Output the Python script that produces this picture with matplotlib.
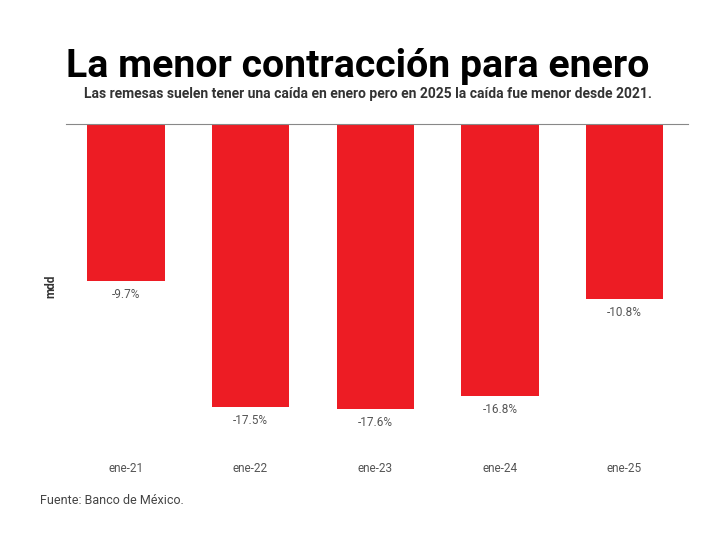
import matplotlib
matplotlib.use('Agg')
import matplotlib.pyplot as plt

# Data
categories = ['ene-21', 'ene-22', 'ene-23', 'ene-24', 'ene-25']
values = [-9.7, -17.5, -17.6, -16.8, -10.8]
value_labels = ['-9.7%', '-17.5%', '-17.6%', '-16.8%', '-10.8%']

plt.rcParams['font.family'] = ['Roboto', 'DejaVu Sans']

fig = plt.figure(figsize=(7.2, 5.51), dpi=100)
ax = fig.add_axes([0.0917, 0.187, 0.864, 0.588])

x = range(len(categories))
bars = ax.bar(x, values, width=0.62, color='#ED1C24')

for bar, lab in zip(bars, value_labels):
    ax.annotate(lab, (bar.get_x() + bar.get_width() / 2, bar.get_height()),
                xytext=(0, -5), textcoords='offset points',
                ha='center', va='top', fontsize=8.5, color='#555555')

ax.set_xlim(-0.48, 4.51)
ax.set_ylim(-20, 0)
ax.set_xticks(list(x))
ax.set_xticklabels(categories, fontsize=8.5, color='#555555')
ax.tick_params(axis='x', length=0, pad=10)
ax.set_yticks([])
ax.set_ylabel('mdd', fontsize=8.5, fontweight='bold', color='#333333', labelpad=6)

for side in ['left', 'right', 'bottom']:
    ax.spines[side].set_visible(False)
ax.spines['top'].set_color('#888888')
ax.spines['top'].set_linewidth(0.8)

fig.text(0.497, 0.86, 'La menor contracción para enero', ha='center', va='baseline',
         fontsize=28.3, fontweight='bold', color='black')
fig.text(0.511, 0.822, 'Las remesas suelen tener una caída en enero pero en 2025 la caída fue menor desde 2021.',
         ha='center', va='baseline', fontsize=10, fontweight='bold', color='#333333')
fig.text(0.055, 0.085, 'Fuente: Banco de México.', ha='left', va='baseline',
         fontsize=9, color='#444444')

plt.savefig('out.png', dpi=100)
plt.close()
